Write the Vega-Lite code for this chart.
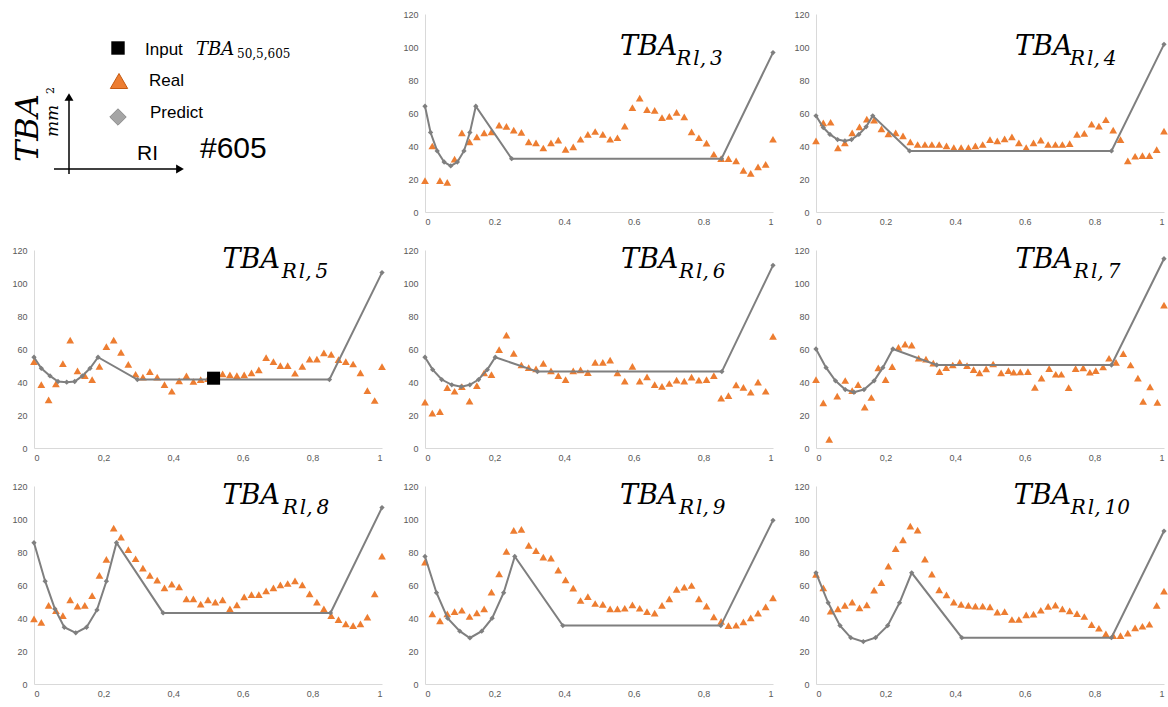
{
"$schema": "https://vega.github.io/schema/vega-lite/v6.json",
"background": "white",
"padding": {"left": 11, "top": 10, "right": 0, "bottom": 0},
"bounds": "flush",
"columns": 3,
"spacing": {"row": 38, "column": 43},
"config": {
  "view": {"stroke": null},
  "axis": {"domainColor": "#d9d9d9", "domainWidth": 1, "ticks": false, "grid": false, "labelColor": "#595959", "labelFont": "Liberation Sans", "labelFontSize": 9}
},
"datasets": {
"input": [{"ri": 0.516, "tba": 42.3}],
"pred": [
{"p":3,"ri":0,"tba":64.1},{"p":3,"ri":0.016,"tba":48.2},{"p":3,"ri":0.035,"tba":37},{"p":3,"ri":0.055,"tba":30.3},{"p":3,"ri":0.074,"tba":27.9},{"p":3,"ri":0.093,"tba":30.3},{"p":3,"ri":0.112,"tba":37},{"p":3,"ri":0.129,"tba":48.2},{"p":3,"ri":0.146,"tba":64.1},{"p":3,"ri":0.249,"tba":32.3},{"p":3,"ri":0.852,"tba":32.3},{"p":3,"ri":1,"tba":96.6},
{"p":4,"ri":0,"tba":58.3},{"p":4,"ri":0.021,"tba":51.2},{"p":4,"ri":0.04,"tba":47},{"p":4,"ri":0.062,"tba":43.9},{"p":4,"ri":0.083,"tba":43.1},{"p":4,"ri":0.102,"tba":43.9},{"p":4,"ri":0.123,"tba":47},{"p":4,"ri":0.144,"tba":51.6},{"p":4,"ri":0.163,"tba":58.3},{"p":4,"ri":0.269,"tba":37},{"p":4,"ri":0.849,"tba":37},{"p":4,"ri":1,"tba":101.6},
{"p":5,"ri":0,"tba":55},{"p":5,"ri":0.021,"tba":48.3},{"p":5,"ri":0.046,"tba":43.7},{"p":5,"ri":0.069,"tba":40.3},{"p":5,"ri":0.094,"tba":39.9},{"p":5,"ri":0.117,"tba":40.3},{"p":5,"ri":0.139,"tba":43.7},{"p":5,"ri":0.161,"tba":48.3},{"p":5,"ri":0.184,"tba":55},{"p":5,"ri":0.297,"tba":41.5},{"p":5,"ri":0.849,"tba":41.5},{"p":5,"ri":1,"tba":106.3},
{"p":6,"ri":0,"tba":55},{"p":6,"ri":0.022,"tba":47.5},{"p":6,"ri":0.048,"tba":41.5},{"p":6,"ri":0.077,"tba":38.3},{"p":6,"ri":0.104,"tba":37.2},{"p":6,"ri":0.129,"tba":38.3},{"p":6,"ri":0.154,"tba":41.5},{"p":6,"ri":0.179,"tba":47.5},{"p":6,"ri":0.202,"tba":55},{"p":6,"ri":0.323,"tba":46.3},{"p":6,"ri":0.853,"tba":46.3},{"p":6,"ri":1,"tba":110.7},
{"p":7,"ri":0,"tba":60},{"p":7,"ri":0.029,"tba":48.7},{"p":7,"ri":0.056,"tba":40.7},{"p":7,"ri":0.084,"tba":35.4},{"p":7,"ri":0.109,"tba":33.8},{"p":7,"ri":0.138,"tba":35.4},{"p":7,"ri":0.167,"tba":40.7},{"p":7,"ri":0.192,"tba":48.7},{"p":7,"ri":0.221,"tba":60},{"p":7,"ri":0.347,"tba":50.3},{"p":7,"ri":0.849,"tba":50.3},{"p":7,"ri":1,"tba":114.7},
{"p":8,"ri":0,"tba":85.6},{"p":8,"ri":0.032,"tba":62.3},{"p":8,"ri":0.06,"tba":45.5},{"p":8,"ri":0.087,"tba":34.4},{"p":8,"ri":0.12,"tba":31},{"p":8,"ri":0.151,"tba":34.4},{"p":8,"ri":0.181,"tba":44.9},{"p":8,"ri":0.208,"tba":62.3},{"p":8,"ri":0.237,"tba":85.6},{"p":8,"ri":0.371,"tba":43.1},{"p":8,"ri":0.852,"tba":43.1},{"p":8,"ri":1,"tba":106.9},
{"p":9,"ri":0,"tba":77.3},{"p":9,"ri":0.033,"tba":55.3},{"p":9,"ri":0.065,"tba":39.9},{"p":9,"ri":0.1,"tba":32},{"p":9,"ri":0.129,"tba":27.9},{"p":9,"ri":0.163,"tba":32},{"p":9,"ri":0.193,"tba":39.9},{"p":9,"ri":0.226,"tba":55.3},{"p":9,"ri":0.258,"tba":77.3},{"p":9,"ri":0.396,"tba":35.4},{"p":9,"ri":0.85,"tba":35.4},{"p":9,"ri":1,"tba":99.2},
{"p":10,"ri":0,"tba":67.4},{"p":10,"ri":0.035,"tba":49.2},{"p":10,"ri":0.069,"tba":35.4},{"p":10,"ri":0.1,"tba":28.1},{"p":10,"ri":0.136,"tba":25.7},{"p":10,"ri":0.171,"tba":28.1},{"p":10,"ri":0.206,"tba":35.4},{"p":10,"ri":0.24,"tba":49.2},{"p":10,"ri":0.275,"tba":67.4},{"p":10,"ri":0.419,"tba":28.1},{"p":10,"ri":0.849,"tba":28.1},{"p":10,"ri":1,"tba":92.7}
],
"real": [
{"p":3,"ri":0,"tba":19},{"p":3,"ri":0.021,"tba":40},{"p":3,"ri":0.043,"tba":19},{"p":3,"ri":0.064,"tba":18},{"p":3,"ri":0.085,"tba":32},{"p":3,"ri":0.106,"tba":48},{"p":3,"ri":0.128,"tba":42.5},{"p":3,"ri":0.149,"tba":45.5},{"p":3,"ri":0.17,"tba":48},{"p":3,"ri":0.191,"tba":48.6},{"p":3,"ri":0.213,"tba":52.7},{"p":3,"ri":0.234,"tba":51.9},{"p":3,"ri":0.255,"tba":49.6},{"p":3,"ri":0.277,"tba":48.2},{"p":3,"ri":0.298,"tba":42.5},{"p":3,"ri":0.319,"tba":41.9},{"p":3,"ri":0.34,"tba":38.8},{"p":3,"ri":0.362,"tba":41.9},{"p":3,"ri":0.383,"tba":43.5},{"p":3,"ri":0.404,"tba":38},{"p":3,"ri":0.426,"tba":39.5},{"p":3,"ri":0.447,"tba":44.1},{"p":3,"ri":0.468,"tba":47},{"p":3,"ri":0.489,"tba":48.8},{"p":3,"ri":0.511,"tba":47},{"p":3,"ri":0.532,"tba":44.1},{"p":3,"ri":0.553,"tba":45},{"p":3,"ri":0.574,"tba":52},{"p":3,"ri":0.596,"tba":63.3},{"p":3,"ri":0.617,"tba":69},{"p":3,"ri":0.638,"tba":62},{"p":3,"ri":0.66,"tba":61.6},{"p":3,"ri":0.681,"tba":57.2},{"p":3,"ri":0.702,"tba":58},{"p":3,"ri":0.723,"tba":60.4},{"p":3,"ri":0.745,"tba":57.6},{"p":3,"ri":0.766,"tba":48.6},{"p":3,"ri":0.787,"tba":45},{"p":3,"ri":0.809,"tba":41.7},{"p":3,"ri":0.83,"tba":35},{"p":3,"ri":0.851,"tba":32.3},{"p":3,"ri":0.872,"tba":32.3},{"p":3,"ri":0.894,"tba":31},{"p":3,"ri":0.915,"tba":25.2},{"p":3,"ri":0.936,"tba":23.4},{"p":3,"ri":0.957,"tba":27.3},{"p":3,"ri":0.979,"tba":28.9},{"p":3,"ri":1,"tba":44.1},
{"p":4,"ri":0,"tba":43.1},{"p":4,"ri":0.021,"tba":54},{"p":4,"ri":0.042,"tba":54.4},{"p":4,"ri":0.063,"tba":38.9},{"p":4,"ri":0.083,"tba":41.9},{"p":4,"ri":0.104,"tba":48},{"p":4,"ri":0.125,"tba":51.6},{"p":4,"ri":0.146,"tba":56.3},{"p":4,"ri":0.167,"tba":55.7},{"p":4,"ri":0.188,"tba":50.4},{"p":4,"ri":0.208,"tba":47.4},{"p":4,"ri":0.229,"tba":48},{"p":4,"ri":0.25,"tba":46.1},{"p":4,"ri":0.271,"tba":42.5},{"p":4,"ri":0.292,"tba":40.9},{"p":4,"ri":0.313,"tba":40.9},{"p":4,"ri":0.333,"tba":40.9},{"p":4,"ri":0.354,"tba":40.9},{"p":4,"ri":0.375,"tba":40.1},{"p":4,"ri":0.396,"tba":39},{"p":4,"ri":0.417,"tba":39},{"p":4,"ri":0.438,"tba":39},{"p":4,"ri":0.458,"tba":40.1},{"p":4,"ri":0.479,"tba":40.9},{"p":4,"ri":0.5,"tba":43.9},{"p":4,"ri":0.521,"tba":43.1},{"p":4,"ri":0.542,"tba":44.3},{"p":4,"ri":0.563,"tba":45.5},{"p":4,"ri":0.583,"tba":41.9},{"p":4,"ri":0.604,"tba":39},{"p":4,"ri":0.625,"tba":41.9},{"p":4,"ri":0.646,"tba":43.5},{"p":4,"ri":0.667,"tba":40.9},{"p":4,"ri":0.688,"tba":40.9},{"p":4,"ri":0.708,"tba":40.9},{"p":4,"ri":0.729,"tba":41.5},{"p":4,"ri":0.75,"tba":47},{"p":4,"ri":0.771,"tba":47.6},{"p":4,"ri":0.792,"tba":53.2},{"p":4,"ri":0.813,"tba":52},{"p":4,"ri":0.833,"tba":55.9},{"p":4,"ri":0.854,"tba":49.6},{"p":4,"ri":0.875,"tba":43.9},{"p":4,"ri":0.896,"tba":31},{"p":4,"ri":0.917,"tba":33.8},{"p":4,"ri":0.938,"tba":34.2},{"p":4,"ri":0.958,"tba":34.2},{"p":4,"ri":0.979,"tba":37.8},{"p":4,"ri":1,"tba":49},
{"p":5,"ri":0,"tba":52.3},{"p":5,"ri":0.021,"tba":38.4},{"p":5,"ri":0.042,"tba":29.2},{"p":5,"ri":0.063,"tba":38.9},{"p":5,"ri":0.083,"tba":51.1},{"p":5,"ri":0.104,"tba":65.4},{"p":5,"ri":0.125,"tba":46.7},{"p":5,"ri":0.146,"tba":43.9},{"p":5,"ri":0.167,"tba":41.5},{"p":5,"ri":0.188,"tba":49.5},{"p":5,"ri":0.208,"tba":61.4},{"p":5,"ri":0.229,"tba":65.4},{"p":5,"ri":0.25,"tba":58},{"p":5,"ri":0.271,"tba":50.7},{"p":5,"ri":0.292,"tba":44.7},{"p":5,"ri":0.313,"tba":42.9},{"p":5,"ri":0.333,"tba":46.3},{"p":5,"ri":0.354,"tba":42.9},{"p":5,"ri":0.375,"tba":38.4},{"p":5,"ri":0.396,"tba":34.4},{"p":5,"ri":0.417,"tba":40.7},{"p":5,"ri":0.438,"tba":43.7},{"p":5,"ri":0.458,"tba":40.3},{"p":5,"ri":0.479,"tba":41.5},{"p":5,"ri":0.5,"tba":42},{"p":5,"ri":0.521,"tba":43},{"p":5,"ri":0.542,"tba":44.9},{"p":5,"ri":0.563,"tba":44.3},{"p":5,"ri":0.583,"tba":43.9},{"p":5,"ri":0.604,"tba":44.3},{"p":5,"ri":0.625,"tba":45.5},{"p":5,"ri":0.646,"tba":47.3},{"p":5,"ri":0.667,"tba":54.8},{"p":5,"ri":0.688,"tba":52.3},{"p":5,"ri":0.708,"tba":49.9},{"p":5,"ri":0.729,"tba":49.9},{"p":5,"ri":0.75,"tba":45.3},{"p":5,"ri":0.771,"tba":49.5},{"p":5,"ri":0.792,"tba":53.9},{"p":5,"ri":0.813,"tba":53.9},{"p":5,"ri":0.833,"tba":57.6},{"p":5,"ri":0.854,"tba":56.8},{"p":5,"ri":0.875,"tba":53.5},{"p":5,"ri":0.896,"tba":52.3},{"p":5,"ri":0.917,"tba":50.9},{"p":5,"ri":0.938,"tba":45.5},{"p":5,"ri":0.958,"tba":34.8},{"p":5,"ri":0.979,"tba":28.8},{"p":5,"ri":1,"tba":49.3},
{"p":6,"ri":0,"tba":27.8},{"p":6,"ri":0.021,"tba":21.1},{"p":6,"ri":0.043,"tba":22.1},{"p":6,"ri":0.064,"tba":36.6},{"p":6,"ri":0.085,"tba":34.4},{"p":6,"ri":0.106,"tba":37.2},{"p":6,"ri":0.128,"tba":28.4},{"p":6,"ri":0.149,"tba":37.8},{"p":6,"ri":0.17,"tba":45.5},{"p":6,"ri":0.191,"tba":44.5},{"p":6,"ri":0.213,"tba":59.6},{"p":6,"ri":0.234,"tba":68.4},{"p":6,"ri":0.255,"tba":57.4},{"p":6,"ri":0.277,"tba":50.3},{"p":6,"ri":0.298,"tba":48.7},{"p":6,"ri":0.319,"tba":47.9},{"p":6,"ri":0.34,"tba":51.3},{"p":6,"ri":0.362,"tba":46.7},{"p":6,"ri":0.383,"tba":43.9},{"p":6,"ri":0.404,"tba":41.5},{"p":6,"ri":0.426,"tba":46.7},{"p":6,"ri":0.447,"tba":47.3},{"p":6,"ri":0.468,"tba":45.7},{"p":6,"ri":0.489,"tba":51.9},{"p":6,"ri":0.511,"tba":51.9},{"p":6,"ri":0.532,"tba":53.3},{"p":6,"ri":0.553,"tba":45.5},{"p":6,"ri":0.574,"tba":40.5},{"p":6,"ri":0.596,"tba":49.5},{"p":6,"ri":0.617,"tba":40.5},{"p":6,"ri":0.638,"tba":43.1},{"p":6,"ri":0.66,"tba":38.4},{"p":6,"ri":0.681,"tba":37.4},{"p":6,"ri":0.702,"tba":39.1},{"p":6,"ri":0.723,"tba":41.1},{"p":6,"ri":0.745,"tba":40.5},{"p":6,"ri":0.766,"tba":42.9},{"p":6,"ri":0.787,"tba":41.1},{"p":6,"ri":0.809,"tba":41.5},{"p":6,"ri":0.83,"tba":43.9},{"p":6,"ri":0.851,"tba":30.2},{"p":6,"ri":0.872,"tba":31.8},{"p":6,"ri":0.894,"tba":38.2},{"p":6,"ri":0.915,"tba":36.8},{"p":6,"ri":0.936,"tba":33.8},{"p":6,"ri":0.957,"tba":39.9},{"p":6,"ri":0.979,"tba":34.4},{"p":6,"ri":1,"tba":67.6},
{"p":7,"ri":0,"tba":41.5},{"p":7,"ri":0.021,"tba":27.4},{"p":7,"ri":0.038,"tba":5.2},{"p":7,"ri":0.061,"tba":31.4},{"p":7,"ri":0.084,"tba":40.9},{"p":7,"ri":0.104,"tba":34.8},{"p":7,"ri":0.121,"tba":38.4},{"p":7,"ri":0.14,"tba":24.8},{"p":7,"ri":0.159,"tba":30.6},{"p":7,"ri":0.179,"tba":48.5},{"p":7,"ri":0.2,"tba":41.5},{"p":7,"ri":0.219,"tba":49.3},{"p":7,"ri":0.237,"tba":61},{"p":7,"ri":0.256,"tba":63},{"p":7,"ri":0.275,"tba":62.4},{"p":7,"ri":0.295,"tba":54.4},{"p":7,"ri":0.316,"tba":53.9},{"p":7,"ri":0.337,"tba":51.5},{"p":7,"ri":0.355,"tba":46.3},{"p":7,"ri":0.374,"tba":48.7},{"p":7,"ri":0.393,"tba":50.3},{"p":7,"ri":0.413,"tba":51.9},{"p":7,"ri":0.434,"tba":49.9},{"p":7,"ri":0.453,"tba":47.5},{"p":7,"ri":0.47,"tba":45.5},{"p":7,"ri":0.489,"tba":47.9},{"p":7,"ri":0.509,"tba":50.9},{"p":7,"ri":0.532,"tba":45.5},{"p":7,"ri":0.553,"tba":46.9},{"p":7,"ri":0.568,"tba":45.9},{"p":7,"ri":0.587,"tba":46.1},{"p":7,"ri":0.609,"tba":46.3},{"p":7,"ri":0.629,"tba":36.8},{"p":7,"ri":0.648,"tba":42.3},{"p":7,"ri":0.67,"tba":48.1},{"p":7,"ri":0.689,"tba":44.7},{"p":7,"ri":0.705,"tba":44.7},{"p":7,"ri":0.726,"tba":36.6},{"p":7,"ri":0.746,"tba":48.1},{"p":7,"ri":0.768,"tba":48.5},{"p":7,"ri":0.787,"tba":45.9},{"p":7,"ri":0.804,"tba":46.9},{"p":7,"ri":0.825,"tba":49.1},{"p":7,"ri":0.842,"tba":54.4},{"p":7,"ri":0.862,"tba":51.9},{"p":7,"ri":0.883,"tba":57.2},{"p":7,"ri":0.904,"tba":50.3},{"p":7,"ri":0.925,"tba":42.3},{"p":7,"ri":0.94,"tba":28.2},{"p":7,"ri":0.96,"tba":37},{"p":7,"ri":0.981,"tba":27.6},{"p":7,"ri":1,"tba":86.6},
{"p":8,"ri":0,"tba":39.5},{"p":8,"ri":0.021,"tba":37.4},{"p":8,"ri":0.042,"tba":47.6},{"p":8,"ri":0.063,"tba":44.5},{"p":8,"ri":0.083,"tba":41.5},{"p":8,"ri":0.104,"tba":51},{"p":8,"ri":0.125,"tba":47.2},{"p":8,"ri":0.146,"tba":47.6},{"p":8,"ri":0.167,"tba":53.6},{"p":8,"ri":0.188,"tba":65.8},{"p":8,"ri":0.208,"tba":75.5},{"p":8,"ri":0.229,"tba":94.5},{"p":8,"ri":0.25,"tba":89},{"p":8,"ri":0.271,"tba":81.4},{"p":8,"ri":0.292,"tba":75.9},{"p":8,"ri":0.313,"tba":70.2},{"p":8,"ri":0.333,"tba":65.8},{"p":8,"ri":0.354,"tba":63},{"p":8,"ri":0.375,"tba":58.3},{"p":8,"ri":0.396,"tba":60.5},{"p":8,"ri":0.417,"tba":58.9},{"p":8,"ri":0.438,"tba":51.6},{"p":8,"ri":0.458,"tba":51.6},{"p":8,"ri":0.479,"tba":48.4},{"p":8,"ri":0.5,"tba":51},{"p":8,"ri":0.521,"tba":49.6},{"p":8,"ri":0.542,"tba":51},{"p":8,"ri":0.563,"tba":45.5},{"p":8,"ri":0.583,"tba":48},{"p":8,"ri":0.604,"tba":52.8},{"p":8,"ri":0.625,"tba":54.2},{"p":8,"ri":0.646,"tba":54.2},{"p":8,"ri":0.667,"tba":56.5},{"p":8,"ri":0.688,"tba":58.3},{"p":8,"ri":0.708,"tba":60.1},{"p":8,"ri":0.729,"tba":60.9},{"p":8,"ri":0.75,"tba":62.5},{"p":8,"ri":0.771,"tba":60.1},{"p":8,"ri":0.792,"tba":54.6},{"p":8,"ri":0.813,"tba":49.6},{"p":8,"ri":0.833,"tba":45.5},{"p":8,"ri":0.854,"tba":41.5},{"p":8,"ri":0.875,"tba":39},{"p":8,"ri":0.896,"tba":36.4},{"p":8,"ri":0.917,"tba":35.4},{"p":8,"ri":0.938,"tba":36.4},{"p":8,"ri":0.958,"tba":40.5},{"p":8,"ri":0.979,"tba":54.6},{"p":8,"ri":1,"tba":77.5},
{"p":9,"ri":0,"tba":73.9},{"p":9,"ri":0.021,"tba":42.5},{"p":9,"ri":0.043,"tba":38.3},{"p":9,"ri":0.064,"tba":42.5},{"p":9,"ri":0.085,"tba":43.9},{"p":9,"ri":0.106,"tba":44.7},{"p":9,"ri":0.128,"tba":40.9},{"p":9,"ri":0.149,"tba":43.1},{"p":9,"ri":0.17,"tba":45.5},{"p":9,"ri":0.191,"tba":55.7},{"p":9,"ri":0.213,"tba":66.8},{"p":9,"ri":0.234,"tba":80.4},{"p":9,"ri":0.255,"tba":93.1},{"p":9,"ri":0.277,"tba":93.7},{"p":9,"ri":0.298,"tba":84},{"p":9,"ri":0.319,"tba":80.8},{"p":9,"ri":0.34,"tba":76.9},{"p":9,"ri":0.362,"tba":76.3},{"p":9,"ri":0.383,"tba":69},{"p":9,"ri":0.404,"tba":63.1},{"p":9,"ri":0.426,"tba":58.1},{"p":9,"ri":0.447,"tba":50.6},{"p":9,"ri":0.468,"tba":53},{"p":9,"ri":0.489,"tba":48.8},{"p":9,"ri":0.511,"tba":48.2},{"p":9,"ri":0.532,"tba":45.5},{"p":9,"ri":0.553,"tba":45.5},{"p":9,"ri":0.574,"tba":45.9},{"p":9,"ri":0.596,"tba":48},{"p":9,"ri":0.617,"tba":45.9},{"p":9,"ri":0.638,"tba":43.9},{"p":9,"ri":0.66,"tba":42.9},{"p":9,"ri":0.681,"tba":47.6},{"p":9,"ri":0.702,"tba":51.6},{"p":9,"ri":0.723,"tba":57.3},{"p":9,"ri":0.745,"tba":58.7},{"p":9,"ri":0.766,"tba":59.7},{"p":9,"ri":0.787,"tba":51.6},{"p":9,"ri":0.809,"tba":47.2},{"p":9,"ri":0.83,"tba":40.7},{"p":9,"ri":0.851,"tba":38},{"p":9,"ri":0.872,"tba":35.4},{"p":9,"ri":0.894,"tba":35.6},{"p":9,"ri":0.915,"tba":37.6},{"p":9,"ri":0.936,"tba":40.1},{"p":9,"ri":0.957,"tba":42.9},{"p":9,"ri":0.979,"tba":46.8},{"p":9,"ri":1,"tba":52.2},
{"p":10,"ri":0,"tba":66.4},{"p":10,"ri":0.021,"tba":58.3},{"p":10,"ri":0.042,"tba":44.1},{"p":10,"ri":0.063,"tba":45.5},{"p":10,"ri":0.083,"tba":47.6},{"p":10,"ri":0.104,"tba":49.6},{"p":10,"ri":0.125,"tba":46.1},{"p":10,"ri":0.146,"tba":48},{"p":10,"ri":0.167,"tba":56.9},{"p":10,"ri":0.188,"tba":61.4},{"p":10,"ri":0.208,"tba":71.4},{"p":10,"ri":0.229,"tba":82},{"p":10,"ri":0.25,"tba":87.4},{"p":10,"ri":0.271,"tba":95.7},{"p":10,"ri":0.292,"tba":93.3},{"p":10,"ri":0.313,"tba":75.7},{"p":10,"ri":0.333,"tba":66.6},{"p":10,"ri":0.354,"tba":57.1},{"p":10,"ri":0.375,"tba":54},{"p":10,"ri":0.396,"tba":49.6},{"p":10,"ri":0.417,"tba":48.2},{"p":10,"ri":0.438,"tba":47.6},{"p":10,"ri":0.458,"tba":47.2},{"p":10,"ri":0.479,"tba":47.2},{"p":10,"ri":0.5,"tba":46.8},{"p":10,"ri":0.521,"tba":43.5},{"p":10,"ri":0.542,"tba":43.9},{"p":10,"ri":0.563,"tba":39.1},{"p":10,"ri":0.583,"tba":39.1},{"p":10,"ri":0.604,"tba":41.9},{"p":10,"ri":0.625,"tba":42.3},{"p":10,"ri":0.646,"tba":44.7},{"p":10,"ri":0.667,"tba":47},{"p":10,"ri":0.688,"tba":47.8},{"p":10,"ri":0.708,"tba":45.5},{"p":10,"ri":0.729,"tba":44.3},{"p":10,"ri":0.75,"tba":42.7},{"p":10,"ri":0.771,"tba":40.9},{"p":10,"ri":0.792,"tba":36},{"p":10,"ri":0.813,"tba":33.8},{"p":10,"ri":0.833,"tba":30.4},{"p":10,"ri":0.854,"tba":29.3},{"p":10,"ri":0.875,"tba":29.3},{"p":10,"ri":0.896,"tba":30.8},{"p":10,"ri":0.917,"tba":34},{"p":10,"ri":0.938,"tba":35},{"p":10,"ri":0.958,"tba":36.2},{"p":10,"ri":0.979,"tba":47.6},{"p":10,"ri":1,"tba":56.3}
]
},
"concat": [
{"width": 348, "height": 198, "data": {"values": [{}]},
 "layer": [
  {"mark": {"type": "point", "shape": "square", "filled": true, "color": "black", "opacity": 1, "size": 180}, "encoding": {"x": {"datum": 84, "type": "quantitative", "scale": {"domain": [0, 348], "nice": false}, "axis": null}, "y": {"datum": 34, "type": "quantitative", "scale": {"domain": [0, 198], "reverse": true, "nice": false}, "axis": null}}},
  {"mark": {"type": "point", "shape": "triangle-up", "filled": true, "fill": "#ED7D31", "stroke": "#C55A11", "strokeWidth": 1, "opacity": 1, "size": 300}, "encoding": {"x": {"datum": 85, "type": "quantitative", "scale": {"domain": [0, 348], "nice": false}, "axis": null}, "y": {"datum": 67, "type": "quantitative", "scale": {"domain": [0, 198], "reverse": true, "nice": false}, "axis": null}}},
  {"mark": {"type": "point", "shape": "diamond", "filled": true, "fill": "#A5A5A5", "stroke": "#8C8C8C", "strokeWidth": 1, "opacity": 1, "size": 270}, "encoding": {"x": {"datum": 84, "type": "quantitative", "scale": {"domain": [0, 348], "nice": false}, "axis": null}, "y": {"datum": 103, "type": "quantitative", "scale": {"domain": [0, 198], "reverse": true, "nice": false}, "axis": null}}},
  {"mark": {"type": "text", "font": "Liberation Sans", "fontSize": 17, "align": "left", "baseline": "alphabetic", "color": "black"}, "encoding": {"x": {"datum": 111, "type": "quantitative", "scale": {"domain": [0, 348], "nice": false}, "axis": null}, "y": {"datum": 41, "type": "quantitative", "scale": {"domain": [0, 198], "reverse": true, "nice": false}, "axis": null}, "text": {"value": "Input"}}},
  {"mark": {"type": "text", "font": "DejaVu Serif", "fontStyle": "italic", "fontSize": 18, "align": "left", "baseline": "alphabetic", "color": "black"}, "encoding": {"x": {"datum": 162, "type": "quantitative", "scale": {"domain": [0, 348], "nice": false}, "axis": null}, "y": {"datum": 41, "type": "quantitative", "scale": {"domain": [0, 198], "reverse": true, "nice": false}, "axis": null}, "text": {"value": "TBA"}}},
  {"mark": {"type": "text", "font": "DejaVu Serif", "fontSize": 12, "align": "left", "baseline": "alphabetic", "color": "black"}, "encoding": {"x": {"datum": 203, "type": "quantitative", "scale": {"domain": [0, 348], "nice": false}, "axis": null}, "y": {"datum": 44, "type": "quantitative", "scale": {"domain": [0, 198], "reverse": true, "nice": false}, "axis": null}, "text": {"value": "50,5,605"}}},
  {"mark": {"type": "text", "font": "Liberation Sans", "fontSize": 17, "align": "left", "baseline": "alphabetic", "color": "black"}, "encoding": {"x": {"datum": 115, "type": "quantitative", "scale": {"domain": [0, 348], "nice": false}, "axis": null}, "y": {"datum": 72, "type": "quantitative", "scale": {"domain": [0, 198], "reverse": true, "nice": false}, "axis": null}, "text": {"value": "Real"}}},
  {"mark": {"type": "text", "font": "Liberation Sans", "fontSize": 17, "align": "left", "baseline": "alphabetic", "color": "black"}, "encoding": {"x": {"datum": 116, "type": "quantitative", "scale": {"domain": [0, 348], "nice": false}, "axis": null}, "y": {"datum": 104, "type": "quantitative", "scale": {"domain": [0, 198], "reverse": true, "nice": false}, "axis": null}, "text": {"value": "Predict"}}},
  {"mark": {"type": "text", "font": "Liberation Sans", "fontSize": 21, "align": "left", "baseline": "alphabetic", "color": "black"}, "encoding": {"x": {"datum": 103, "type": "quantitative", "scale": {"domain": [0, 348], "nice": false}, "axis": null}, "y": {"datum": 146, "type": "quantitative", "scale": {"domain": [0, 198], "reverse": true, "nice": false}, "axis": null}, "text": {"value": "RI"}}},
  {"mark": {"type": "text", "font": "Liberation Sans", "fontSize": 30, "align": "left", "baseline": "alphabetic", "color": "black"}, "encoding": {"x": {"datum": 166, "type": "quantitative", "scale": {"domain": [0, 348], "nice": false}, "axis": null}, "y": {"datum": 144, "type": "quantitative", "scale": {"domain": [0, 198], "reverse": true, "nice": false}, "axis": null}, "text": {"value": "#605"}}},
  {"mark": {"type": "text", "font": "DejaVu Serif", "fontStyle": "italic", "fontSize": 32, "angle": 270, "align": "left", "baseline": "alphabetic", "color": "black"}, "encoding": {"x": {"datum": 4, "type": "quantitative", "scale": {"domain": [0, 348], "nice": false}, "axis": null}, "y": {"datum": 148, "type": "quantitative", "scale": {"domain": [0, 198], "reverse": true, "nice": false}, "axis": null}, "text": {"value": "TBA"}}},
  {"mark": {"type": "text", "font": "DejaVu Serif", "fontStyle": "italic", "fontSize": 17, "angle": 270, "align": "left", "baseline": "alphabetic", "color": "black"}, "encoding": {"x": {"datum": 24, "type": "quantitative", "scale": {"domain": [0, 348], "nice": false}, "axis": null}, "y": {"datum": 123, "type": "quantitative", "scale": {"domain": [0, 198], "reverse": true, "nice": false}, "axis": null}, "text": {"value": "mm"}}},
  {"mark": {"type": "text", "font": "DejaVu Serif", "fontSize": 11, "angle": 270, "align": "left", "baseline": "alphabetic", "color": "black"}, "encoding": {"x": {"datum": 20, "type": "quantitative", "scale": {"domain": [0, 348], "nice": false}, "axis": null}, "y": {"datum": 80, "type": "quantitative", "scale": {"domain": [0, 198], "reverse": true, "nice": false}, "axis": null}, "text": {"value": "2"}}},
  {"mark": {"type": "rule", "color": "black", "strokeWidth": 1.5}, "encoding": {"x": {"datum": 35, "type": "quantitative", "scale": {"domain": [0, 348], "nice": false}, "axis": null}, "y": {"datum": 160, "type": "quantitative", "scale": {"domain": [0, 198], "reverse": true, "nice": false}, "axis": null}, "y2": {"datum": 84}}},
  {"mark": {"type": "rule", "color": "black", "strokeWidth": 1.5}, "encoding": {"x": {"datum": 20, "type": "quantitative", "scale": {"domain": [0, 348], "nice": false}, "axis": null}, "x2": {"datum": 144}, "y": {"datum": 155, "type": "quantitative", "scale": {"domain": [0, 198], "reverse": true, "nice": false}, "axis": null}}},
  {"mark": {"type": "point", "shape": "triangle-up", "filled": true, "color": "black", "opacity": 1, "size": 80}, "encoding": {"x": {"datum": 35, "type": "quantitative", "scale": {"domain": [0, 348], "nice": false}, "axis": null}, "y": {"datum": 83, "type": "quantitative", "scale": {"domain": [0, 198], "reverse": true, "nice": false}, "axis": null}}},
  {"mark": {"type": "point", "shape": "triangle-right", "filled": true, "color": "black", "opacity": 1, "size": 80}, "encoding": {"x": {"datum": 146, "type": "quantitative", "scale": {"domain": [0, 348], "nice": false}, "axis": null}, "y": {"datum": 155, "type": "quantitative", "scale": {"domain": [0, 198], "reverse": true, "nice": false}, "axis": null}}}
 ]
},
{"width": 348, "height": 198,
 "layer": [
  {"encoding": {"x": {"field": "ri", "type": "quantitative", "title": null, "scale": {"domain": [0, 1], "nice": false}, "axis": {"values": [0, 0.2, 0.4, 0.6, 0.8, 1], "format": "~g", "labelPadding": 5}}, "y": {"field": "tba", "type": "quantitative", "title": null, "scale": {"domain": [0, 120], "nice": false}, "axis": {"values": [0, 20, 40, 60, 80, 100, 120], "labelPadding": 7}}},
   "layer": [
    {"data": {"name": "real"}, "transform": [{"filter": "datum.p == 3"}], "mark": {"type": "point", "shape": "triangle-up", "filled": true, "color": "#ED7D31", "opacity": 1, "size": 60}},
    {"data": {"name": "pred"}, "transform": [{"filter": "datum.p == 3"}], "mark": {"type": "line", "color": "#7f7f7f", "strokeWidth": 2}},
    {"data": {"name": "pred"}, "transform": [{"filter": "datum.p == 3"}], "mark": {"type": "point", "shape": "diamond", "filled": true, "color": "#7f7f7f", "opacity": 1, "size": 28}}
   ]},
  {"data": {"values": [{"t": "TBA"}]}, "mark": {"type": "text", "font": "DejaVu Serif", "fontStyle": "italic", "fontSize": 27, "align": "left", "baseline": "alphabetic", "color": "black"}, "encoding": {"x": {"datum": 0.56, "type": "quantitative", "title": null, "scale": {"domain": [0, 1], "nice": false}, "axis": {"values": [0, 0.2, 0.4, 0.6, 0.8, 1], "format": "~g", "labelPadding": 5}}, "y": {"datum": 95, "type": "quantitative", "title": null, "scale": {"domain": [0, 120], "nice": false}, "axis": {"values": [0, 20, 40, 60, 80, 100, 120], "labelPadding": 7}}, "text": {"field": "t"}}},
  {"data": {"values": [{"t": "R\u200al,\u20093"}]}, "mark": {"type": "text", "font": "DejaVu Serif", "fontStyle": "italic", "fontSize": 20, "align": "left", "baseline": "alphabetic", "color": "black"}, "encoding": {"x": {"datum": 0.722, "type": "quantitative", "title": null, "scale": {"domain": [0, 1], "nice": false}, "axis": {"values": [0, 0.2, 0.4, 0.6, 0.8, 1], "format": "~g", "labelPadding": 5}}, "y": {"datum": 89, "type": "quantitative", "title": null, "scale": {"domain": [0, 120], "nice": false}, "axis": {"values": [0, 20, 40, 60, 80, 100, 120], "labelPadding": 7}}, "text": {"field": "t"}}}
 ]
},
{"width": 348, "height": 198,
 "layer": [
  {"encoding": {"x": {"field": "ri", "type": "quantitative", "title": null, "scale": {"domain": [0, 1], "nice": false}, "axis": {"values": [0, 0.2, 0.4, 0.6, 0.8, 1], "format": "~g", "labelPadding": 5}}, "y": {"field": "tba", "type": "quantitative", "title": null, "scale": {"domain": [0, 120], "nice": false}, "axis": {"values": [0, 20, 40, 60, 80, 100, 120], "labelPadding": 7}}},
   "layer": [
    {"data": {"name": "real"}, "transform": [{"filter": "datum.p == 4"}], "mark": {"type": "point", "shape": "triangle-up", "filled": true, "color": "#ED7D31", "opacity": 1, "size": 60}},
    {"data": {"name": "pred"}, "transform": [{"filter": "datum.p == 4"}], "mark": {"type": "line", "color": "#7f7f7f", "strokeWidth": 2}},
    {"data": {"name": "pred"}, "transform": [{"filter": "datum.p == 4"}], "mark": {"type": "point", "shape": "diamond", "filled": true, "color": "#7f7f7f", "opacity": 1, "size": 28}}
   ]},
  {"data": {"values": [{"t": "TBA"}]}, "mark": {"type": "text", "font": "DejaVu Serif", "fontStyle": "italic", "fontSize": 27, "align": "left", "baseline": "alphabetic", "color": "black"}, "encoding": {"x": {"datum": 0.572, "type": "quantitative", "title": null, "scale": {"domain": [0, 1], "nice": false}, "axis": {"values": [0, 0.2, 0.4, 0.6, 0.8, 1], "format": "~g", "labelPadding": 5}}, "y": {"datum": 95, "type": "quantitative", "title": null, "scale": {"domain": [0, 120], "nice": false}, "axis": {"values": [0, 20, 40, 60, 80, 100, 120], "labelPadding": 7}}, "text": {"field": "t"}}},
  {"data": {"values": [{"t": "R\u200al,\u20094"}]}, "mark": {"type": "text", "font": "DejaVu Serif", "fontStyle": "italic", "fontSize": 20, "align": "left", "baseline": "alphabetic", "color": "black"}, "encoding": {"x": {"datum": 0.73, "type": "quantitative", "title": null, "scale": {"domain": [0, 1], "nice": false}, "axis": {"values": [0, 0.2, 0.4, 0.6, 0.8, 1], "format": "~g", "labelPadding": 5}}, "y": {"datum": 89, "type": "quantitative", "title": null, "scale": {"domain": [0, 120], "nice": false}, "axis": {"values": [0, 20, 40, 60, 80, 100, 120], "labelPadding": 7}}, "text": {"field": "t"}}}
 ]
},
{"width": 348, "height": 198,
 "layer": [
  {"encoding": {"x": {"field": "ri", "type": "quantitative", "title": null, "scale": {"domain": [0, 1], "nice": false}, "axis": {"values": [0, 0.2, 0.4, 0.6, 0.8, 1], "labelExpr": "replace(format(datum.value, '~g'), '.', ',')", "labelPadding": 5}}, "y": {"field": "tba", "type": "quantitative", "title": null, "scale": {"domain": [0, 120], "nice": false}, "axis": {"values": [0, 20, 40, 60, 80, 100, 120], "labelPadding": 7}}},
   "layer": [
    {"data": {"name": "real"}, "transform": [{"filter": "datum.p == 5"}], "mark": {"type": "point", "shape": "triangle-up", "filled": true, "color": "#ED7D31", "opacity": 1, "size": 60}},
    {"data": {"name": "pred"}, "transform": [{"filter": "datum.p == 5"}], "mark": {"type": "line", "color": "#7f7f7f", "strokeWidth": 2}},
    {"data": {"name": "pred"}, "transform": [{"filter": "datum.p == 5"}], "mark": {"type": "point", "shape": "diamond", "filled": true, "color": "#7f7f7f", "opacity": 1, "size": 28}},
    {"data": {"name": "input"}, "mark": {"type": "point", "shape": "square", "filled": true, "color": "black", "opacity": 1, "size": 170}}
   ]},
  {"data": {"values": [{"t": "TBA"}]}, "mark": {"type": "text", "font": "DejaVu Serif", "fontStyle": "italic", "fontSize": 27, "align": "left", "baseline": "alphabetic", "color": "black"}, "encoding": {"x": {"datum": 0.542, "type": "quantitative", "title": null, "scale": {"domain": [0, 1], "nice": false}, "axis": {"values": [0, 0.2, 0.4, 0.6, 0.8, 1], "labelExpr": "replace(format(datum.value, '~g'), '.', ',')", "labelPadding": 5}}, "y": {"datum": 109, "type": "quantitative", "title": null, "scale": {"domain": [0, 120], "nice": false}, "axis": {"values": [0, 20, 40, 60, 80, 100, 120], "labelPadding": 7}}, "text": {"field": "t"}}},
  {"data": {"values": [{"t": "R\u200al,\u20095"}]}, "mark": {"type": "text", "font": "DejaVu Serif", "fontStyle": "italic", "fontSize": 20, "align": "left", "baseline": "alphabetic", "color": "black"}, "encoding": {"x": {"datum": 0.712, "type": "quantitative", "title": null, "scale": {"domain": [0, 1], "nice": false}, "axis": {"values": [0, 0.2, 0.4, 0.6, 0.8, 1], "labelExpr": "replace(format(datum.value, '~g'), '.', ',')", "labelPadding": 5}}, "y": {"datum": 103, "type": "quantitative", "title": null, "scale": {"domain": [0, 120], "nice": false}, "axis": {"values": [0, 20, 40, 60, 80, 100, 120], "labelPadding": 7}}, "text": {"field": "t"}}}
 ]
},
{"width": 348, "height": 198,
 "layer": [
  {"encoding": {"x": {"field": "ri", "type": "quantitative", "title": null, "scale": {"domain": [0, 1], "nice": false}, "axis": {"values": [0, 0.2, 0.4, 0.6, 0.8, 1], "labelExpr": "replace(format(datum.value, '~g'), '.', ',')", "labelPadding": 5}}, "y": {"field": "tba", "type": "quantitative", "title": null, "scale": {"domain": [0, 120], "nice": false}, "axis": {"values": [0, 20, 40, 60, 80, 100, 120], "labelPadding": 7}}},
   "layer": [
    {"data": {"name": "real"}, "transform": [{"filter": "datum.p == 6"}], "mark": {"type": "point", "shape": "triangle-up", "filled": true, "color": "#ED7D31", "opacity": 1, "size": 60}},
    {"data": {"name": "pred"}, "transform": [{"filter": "datum.p == 6"}], "mark": {"type": "line", "color": "#7f7f7f", "strokeWidth": 2}},
    {"data": {"name": "pred"}, "transform": [{"filter": "datum.p == 6"}], "mark": {"type": "point", "shape": "diamond", "filled": true, "color": "#7f7f7f", "opacity": 1, "size": 28}}
   ]},
  {"data": {"values": [{"t": "TBA"}]}, "mark": {"type": "text", "font": "DejaVu Serif", "fontStyle": "italic", "fontSize": 27, "align": "left", "baseline": "alphabetic", "color": "black"}, "encoding": {"x": {"datum": 0.563, "type": "quantitative", "title": null, "scale": {"domain": [0, 1], "nice": false}, "axis": {"values": [0, 0.2, 0.4, 0.6, 0.8, 1], "labelExpr": "replace(format(datum.value, '~g'), '.', ',')", "labelPadding": 5}}, "y": {"datum": 109, "type": "quantitative", "title": null, "scale": {"domain": [0, 120], "nice": false}, "axis": {"values": [0, 20, 40, 60, 80, 100, 120], "labelPadding": 7}}, "text": {"field": "t"}}},
  {"data": {"values": [{"t": "R\u200al,\u20096"}]}, "mark": {"type": "text", "font": "DejaVu Serif", "fontStyle": "italic", "fontSize": 20, "align": "left", "baseline": "alphabetic", "color": "black"}, "encoding": {"x": {"datum": 0.73, "type": "quantitative", "title": null, "scale": {"domain": [0, 1], "nice": false}, "axis": {"values": [0, 0.2, 0.4, 0.6, 0.8, 1], "labelExpr": "replace(format(datum.value, '~g'), '.', ',')", "labelPadding": 5}}, "y": {"datum": 103, "type": "quantitative", "title": null, "scale": {"domain": [0, 120], "nice": false}, "axis": {"values": [0, 20, 40, 60, 80, 100, 120], "labelPadding": 7}}, "text": {"field": "t"}}}
 ]
},
{"width": 348, "height": 198,
 "layer": [
  {"encoding": {"x": {"field": "ri", "type": "quantitative", "title": null, "scale": {"domain": [0, 1], "nice": false}, "axis": {"values": [0, 0.2, 0.4, 0.6, 0.8, 1], "labelExpr": "replace(format(datum.value, '~g'), '.', ',')", "labelPadding": 5}}, "y": {"field": "tba", "type": "quantitative", "title": null, "scale": {"domain": [0, 120], "nice": false}, "axis": {"values": [0, 20, 40, 60, 80, 100, 120], "labelPadding": 7}}},
   "layer": [
    {"data": {"name": "real"}, "transform": [{"filter": "datum.p == 7"}], "mark": {"type": "point", "shape": "triangle-up", "filled": true, "color": "#ED7D31", "opacity": 1, "size": 60}},
    {"data": {"name": "pred"}, "transform": [{"filter": "datum.p == 7"}], "mark": {"type": "line", "color": "#7f7f7f", "strokeWidth": 2}},
    {"data": {"name": "pred"}, "transform": [{"filter": "datum.p == 7"}], "mark": {"type": "point", "shape": "diamond", "filled": true, "color": "#7f7f7f", "opacity": 1, "size": 28}}
   ]},
  {"data": {"values": [{"t": "TBA"}]}, "mark": {"type": "text", "font": "DejaVu Serif", "fontStyle": "italic", "fontSize": 27, "align": "left", "baseline": "alphabetic", "color": "black"}, "encoding": {"x": {"datum": 0.573, "type": "quantitative", "title": null, "scale": {"domain": [0, 1], "nice": false}, "axis": {"values": [0, 0.2, 0.4, 0.6, 0.8, 1], "labelExpr": "replace(format(datum.value, '~g'), '.', ',')", "labelPadding": 5}}, "y": {"datum": 109, "type": "quantitative", "title": null, "scale": {"domain": [0, 120], "nice": false}, "axis": {"values": [0, 20, 40, 60, 80, 100, 120], "labelPadding": 7}}, "text": {"field": "t"}}},
  {"data": {"values": [{"t": "R\u200al,\u20097"}]}, "mark": {"type": "text", "font": "DejaVu Serif", "fontStyle": "italic", "fontSize": 20, "align": "left", "baseline": "alphabetic", "color": "black"}, "encoding": {"x": {"datum": 0.741, "type": "quantitative", "title": null, "scale": {"domain": [0, 1], "nice": false}, "axis": {"values": [0, 0.2, 0.4, 0.6, 0.8, 1], "labelExpr": "replace(format(datum.value, '~g'), '.', ',')", "labelPadding": 5}}, "y": {"datum": 103, "type": "quantitative", "title": null, "scale": {"domain": [0, 120], "nice": false}, "axis": {"values": [0, 20, 40, 60, 80, 100, 120], "labelPadding": 7}}, "text": {"field": "t"}}}
 ]
},
{"width": 348, "height": 198,
 "layer": [
  {"encoding": {"x": {"field": "ri", "type": "quantitative", "title": null, "scale": {"domain": [0, 1], "nice": false}, "axis": {"values": [0, 0.2, 0.4, 0.6, 0.8, 1], "labelExpr": "replace(format(datum.value, '~g'), '.', ',')", "labelPadding": 5}}, "y": {"field": "tba", "type": "quantitative", "title": null, "scale": {"domain": [0, 120], "nice": false}, "axis": {"values": [0, 20, 40, 60, 80, 100, 120], "labelPadding": 7}}},
   "layer": [
    {"data": {"name": "real"}, "transform": [{"filter": "datum.p == 8"}], "mark": {"type": "point", "shape": "triangle-up", "filled": true, "color": "#ED7D31", "opacity": 1, "size": 60}},
    {"data": {"name": "pred"}, "transform": [{"filter": "datum.p == 8"}], "mark": {"type": "line", "color": "#7f7f7f", "strokeWidth": 2}},
    {"data": {"name": "pred"}, "transform": [{"filter": "datum.p == 8"}], "mark": {"type": "point", "shape": "diamond", "filled": true, "color": "#7f7f7f", "opacity": 1, "size": 28}}
   ]},
  {"data": {"values": [{"t": "TBA"}]}, "mark": {"type": "text", "font": "DejaVu Serif", "fontStyle": "italic", "fontSize": 27, "align": "left", "baseline": "alphabetic", "color": "black"}, "encoding": {"x": {"datum": 0.542, "type": "quantitative", "title": null, "scale": {"domain": [0, 1], "nice": false}, "axis": {"values": [0, 0.2, 0.4, 0.6, 0.8, 1], "labelExpr": "replace(format(datum.value, '~g'), '.', ',')", "labelPadding": 5}}, "y": {"datum": 109, "type": "quantitative", "title": null, "scale": {"domain": [0, 120], "nice": false}, "axis": {"values": [0, 20, 40, 60, 80, 100, 120], "labelPadding": 7}}, "text": {"field": "t"}}},
  {"data": {"values": [{"t": "R\u200al,\u20098"}]}, "mark": {"type": "text", "font": "DejaVu Serif", "fontStyle": "italic", "fontSize": 20, "align": "left", "baseline": "alphabetic", "color": "black"}, "encoding": {"x": {"datum": 0.715, "type": "quantitative", "title": null, "scale": {"domain": [0, 1], "nice": false}, "axis": {"values": [0, 0.2, 0.4, 0.6, 0.8, 1], "labelExpr": "replace(format(datum.value, '~g'), '.', ',')", "labelPadding": 5}}, "y": {"datum": 103, "type": "quantitative", "title": null, "scale": {"domain": [0, 120], "nice": false}, "axis": {"values": [0, 20, 40, 60, 80, 100, 120], "labelPadding": 7}}, "text": {"field": "t"}}}
 ]
},
{"width": 348, "height": 198,
 "layer": [
  {"encoding": {"x": {"field": "ri", "type": "quantitative", "title": null, "scale": {"domain": [0, 1], "nice": false}, "axis": {"values": [0, 0.2, 0.4, 0.6, 0.8, 1], "labelExpr": "replace(format(datum.value, '~g'), '.', ',')", "labelPadding": 5}}, "y": {"field": "tba", "type": "quantitative", "title": null, "scale": {"domain": [0, 120], "nice": false}, "axis": {"values": [0, 20, 40, 60, 80, 100, 120], "labelPadding": 7}}},
   "layer": [
    {"data": {"name": "real"}, "transform": [{"filter": "datum.p == 9"}], "mark": {"type": "point", "shape": "triangle-up", "filled": true, "color": "#ED7D31", "opacity": 1, "size": 60}},
    {"data": {"name": "pred"}, "transform": [{"filter": "datum.p == 9"}], "mark": {"type": "line", "color": "#7f7f7f", "strokeWidth": 2}},
    {"data": {"name": "pred"}, "transform": [{"filter": "datum.p == 9"}], "mark": {"type": "point", "shape": "diamond", "filled": true, "color": "#7f7f7f", "opacity": 1, "size": 28}}
   ]},
  {"data": {"values": [{"t": "TBA"}]}, "mark": {"type": "text", "font": "DejaVu Serif", "fontStyle": "italic", "fontSize": 27, "align": "left", "baseline": "alphabetic", "color": "black"}, "encoding": {"x": {"datum": 0.56, "type": "quantitative", "title": null, "scale": {"domain": [0, 1], "nice": false}, "axis": {"values": [0, 0.2, 0.4, 0.6, 0.8, 1], "labelExpr": "replace(format(datum.value, '~g'), '.', ',')", "labelPadding": 5}}, "y": {"datum": 109, "type": "quantitative", "title": null, "scale": {"domain": [0, 120], "nice": false}, "axis": {"values": [0, 20, 40, 60, 80, 100, 120], "labelPadding": 7}}, "text": {"field": "t"}}},
  {"data": {"values": [{"t": "R\u200al,\u20099"}]}, "mark": {"type": "text", "font": "DejaVu Serif", "fontStyle": "italic", "fontSize": 20, "align": "left", "baseline": "alphabetic", "color": "black"}, "encoding": {"x": {"datum": 0.73, "type": "quantitative", "title": null, "scale": {"domain": [0, 1], "nice": false}, "axis": {"values": [0, 0.2, 0.4, 0.6, 0.8, 1], "labelExpr": "replace(format(datum.value, '~g'), '.', ',')", "labelPadding": 5}}, "y": {"datum": 103, "type": "quantitative", "title": null, "scale": {"domain": [0, 120], "nice": false}, "axis": {"values": [0, 20, 40, 60, 80, 100, 120], "labelPadding": 7}}, "text": {"field": "t"}}}
 ]
},
{"width": 348, "height": 198,
 "layer": [
  {"encoding": {"x": {"field": "ri", "type": "quantitative", "title": null, "scale": {"domain": [0, 1], "nice": false}, "axis": {"values": [0, 0.2, 0.4, 0.6, 0.8, 1], "labelExpr": "replace(format(datum.value, '~g'), '.', ',')", "labelPadding": 5}}, "y": {"field": "tba", "type": "quantitative", "title": null, "scale": {"domain": [0, 120], "nice": false}, "axis": {"values": [0, 20, 40, 60, 80, 100, 120], "labelPadding": 7}}},
   "layer": [
    {"data": {"name": "real"}, "transform": [{"filter": "datum.p == 10"}], "mark": {"type": "point", "shape": "triangle-up", "filled": true, "color": "#ED7D31", "opacity": 1, "size": 60}},
    {"data": {"name": "pred"}, "transform": [{"filter": "datum.p == 10"}], "mark": {"type": "line", "color": "#7f7f7f", "strokeWidth": 2}},
    {"data": {"name": "pred"}, "transform": [{"filter": "datum.p == 10"}], "mark": {"type": "point", "shape": "diamond", "filled": true, "color": "#7f7f7f", "opacity": 1, "size": 28}}
   ]},
  {"data": {"values": [{"t": "TBA"}]}, "mark": {"type": "text", "font": "DejaVu Serif", "fontStyle": "italic", "fontSize": 27, "align": "left", "baseline": "alphabetic", "color": "black"}, "encoding": {"x": {"datum": 0.568, "type": "quantitative", "title": null, "scale": {"domain": [0, 1], "nice": false}, "axis": {"values": [0, 0.2, 0.4, 0.6, 0.8, 1], "labelExpr": "replace(format(datum.value, '~g'), '.', ',')", "labelPadding": 5}}, "y": {"datum": 109, "type": "quantitative", "title": null, "scale": {"domain": [0, 120], "nice": false}, "axis": {"values": [0, 20, 40, 60, 80, 100, 120], "labelPadding": 7}}, "text": {"field": "t"}}},
  {"data": {"values": [{"t": "R\u200al,\u200910"}]}, "mark": {"type": "text", "font": "DejaVu Serif", "fontStyle": "italic", "fontSize": 20, "align": "left", "baseline": "alphabetic", "color": "black"}, "encoding": {"x": {"datum": 0.732, "type": "quantitative", "title": null, "scale": {"domain": [0, 1], "nice": false}, "axis": {"values": [0, 0.2, 0.4, 0.6, 0.8, 1], "labelExpr": "replace(format(datum.value, '~g'), '.', ',')", "labelPadding": 5}}, "y": {"datum": 103, "type": "quantitative", "title": null, "scale": {"domain": [0, 120], "nice": false}, "axis": {"values": [0, 20, 40, 60, 80, 100, 120], "labelPadding": 7}}, "text": {"field": "t"}}}
 ]
}
]
}
